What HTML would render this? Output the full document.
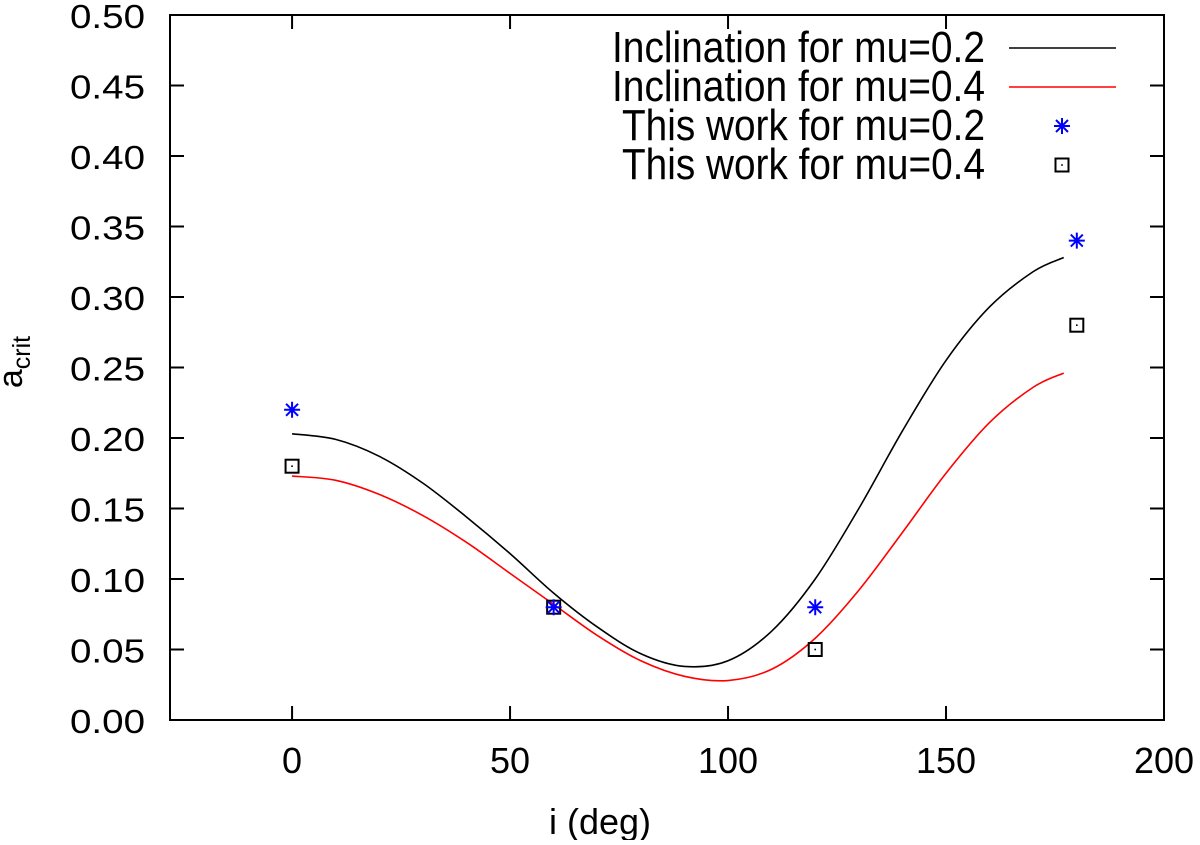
<!DOCTYPE html>
<html><head><meta charset="utf-8"><style>
html,body{margin:0;padding:0;background:#fff;}
svg text{font-family:"Liberation Sans",sans-serif;fill:#000;}
</style></head><body>
<svg id="chart" width="1200" height="840" xmlns="http://www.w3.org/2000/svg">
<g id="axes"></g>
<g id="series"></g>
<g id="legend"></g>
</svg>
<script>
const xTicks = [0, 50, 100, 150, 200];
const yTicks = [0, 0.05, 0.10, 0.15, 0.20, 0.25, 0.30, 0.35, 0.40, 0.45, 0.50];
const curveX = [0,10,20,30,40,50,60,70,80,90,100,110,120,130,140,150,160,170,177];
const blackY = [0.203,0.199,0.187,0.168,0.144,0.118,0.090,0.066,0.047,0.038,0.042,0.063,0.100,0.150,0.205,0.255,0.293,0.318,0.328];
const redY   = [0.173,0.170,0.160,0.145,0.126,0.104,0.082,0.060,0.042,0.031,0.028,0.036,0.058,0.092,0.133,0.175,0.211,0.236,0.246];
const ptX = [0, 60, 120, 180];
const starY = [0.22, 0.08, 0.08, 0.34];
const squareY = [0.18, 0.08, 0.05, 0.28];

const L=170,R=1164,T=15,B=720,XMIN=-28,XMAX=200,YMIN=0,YMAX=0.5;
const sx=v=>L+(v-XMIN)/(XMAX-XMIN)*(R-L);
const sy=v=>B-(v-YMIN)/(YMAX-YMIN)*(B-T);
const NS="http://www.w3.org/2000/svg";
function mk(tag,attrs,parent){const e=document.createElementNS(NS,tag);for(const k in attrs)e.setAttribute(k,attrs[k]);parent.appendChild(e);return e;}
const axes=document.getElementById('axes'),series=document.getElementById('series'),legend=document.getElementById('legend');

let fr=mk('rect',{x:L,y:T,width:R-L,height:B-T,fill:'none',stroke:'#000','stroke-width':2},axes);

xTicks.forEach(v=>{
  const x=sx(v);
  let t=mk('path',{d:`M${x},${B}v-14M${x},${T}v14`,stroke:'#000','stroke-width':2},axes);
  
  let tx=mk('text',{x:x,y:773,'text-anchor':'middle','font-size':36},axes);tx.textContent=v;
  
});
yTicks.forEach(v=>{
  const y=sy(v);
  let t=mk('path',{d:`M${L},${y}h14M${R},${y}h-14`,stroke:'#000','stroke-width':2},axes);
  
  let tx=mk('text',{x:145,y:y+13,'text-anchor':'end','font-size':33,textLength:75,lengthAdjust:'spacingAndGlyphs'},axes);tx.textContent=v.toFixed(2);
  
});
let xt=mk('text',{x:600,y:834,'text-anchor':'middle','font-size':36},axes);xt.textContent='i (deg)';

let yt=mk('text',{transform:'translate(22,362) rotate(-90)','text-anchor':'middle','font-size':34},axes);
yt.innerHTML='a<tspan font-size="25" dy="8">crit</tspan>';


function smooth(xs,ys){
  const p=xs.map((x,i)=>[sx(x),sy(ys[i])]);
  let d=`M${p[0][0]},${p[0][1]}`;
  for(let i=0;i<p.length-1;i++){
    const p0=p[Math.max(0,i-1)],p1=p[i],p2=p[i+1],p3=p[Math.min(p.length-1,i+2)];
    const c1=[p1[0]+(p2[0]-p0[0])/6,p1[1]+(p2[1]-p0[1])/6],c2=[p2[0]-(p3[0]-p1[0])/6,p2[1]-(p3[1]-p1[1])/6];
    d+=`C${c1[0]},${c1[1]} ${c2[0]},${c2[1]} ${p2[0]},${p2[1]}`;
  }
  return d;
}
let lb=mk('path',{d:smooth(curveX,blackY),fill:'none',stroke:'#000','stroke-width':1.6},series);

let lr=mk('path',{d:smooth(curveX,redY),fill:'none',stroke:'#ff0000','stroke-width':1.6},series);


function star(x,y,parent){
  const r=8;
  return mk('path',{d:`M${x-r},${y}h${2*r}M${x},${y-r}v${2*r}M${x-r*0.75},${y-r*0.75}l${1.5*r},${1.5*r}M${x-r*0.75},${y+r*0.75}l${1.5*r},${-1.5*r}`,stroke:'#0000ff','stroke-width':2,fill:'none'},parent);
}
function square(x,y,parent){
  const g=mk('g',{},parent);
  mk('rect',{x:x-6.5,y:y-6.5,width:13,height:13,fill:'none',stroke:'#000','stroke-width':2},g);
  mk('rect',{x:x-0.8,y:y-0.8,width:1.6,height:1.6,fill:'#000'},g);
  return g;
}
ptX.forEach((v,i)=>{
  let s=square(sx(v),sy(squareY[i]),series);
  
});
ptX.forEach((v,i)=>{
  let s=star(sx(v),sy(starY[i]),series);
  
});

const labels=['Inclination for mu=0.2','Inclination for mu=0.4','This work for mu=0.2','This work for mu=0.4'];
const labelW=[373,373,363,363];
labels.forEach((txt,i)=>{
  const y=48+i*39;
  let t=mk('text',{x:985,y:y+14,'text-anchor':'end','font-size':44,textLength:labelW[i],lengthAdjust:'spacingAndGlyphs'},legend);t.textContent=txt;
  
  let m;
  if(i===0) m=mk('path',{d:`M1009,${y}H1116`,stroke:'#000','stroke-width':1.6},legend);
  else if(i===1) m=mk('path',{d:`M1009,${y}H1116`,stroke:'#ff0000','stroke-width':1.6},legend);
  else if(i===2) m=star(1062,y,legend);
  else m=square(1062,y,legend);
  
});
</script>
</body></html>
